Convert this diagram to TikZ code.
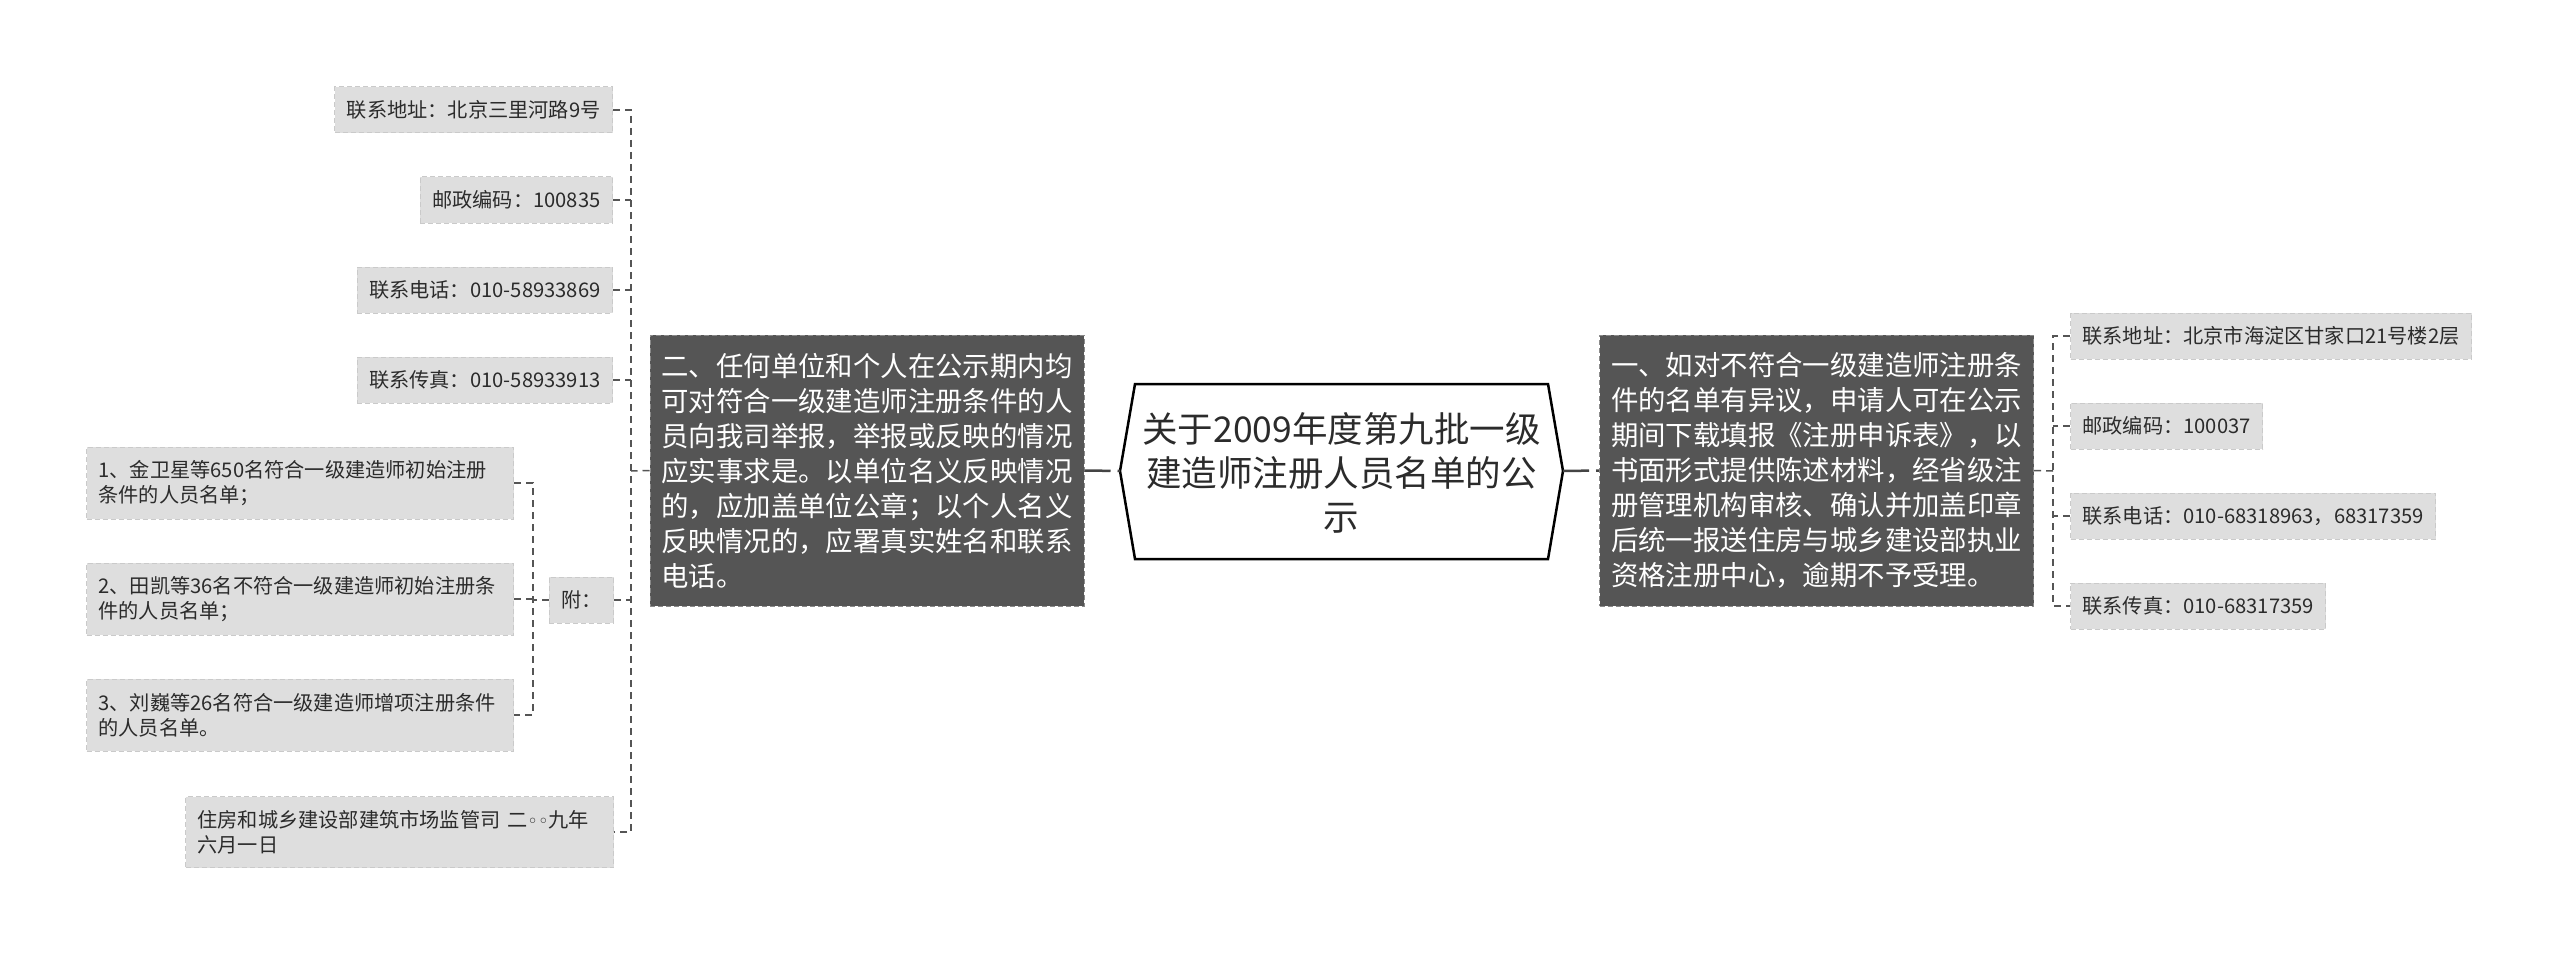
\documentclass[tikz,border=0pt]{standalone}
\usepackage{fontspec}
\setmainfont{Noto Sans CJK SC}
\newfontfamily\symfont{DejaVu Sans}
\definecolor{leaf}{HTML}{DEDEDE}
\definecolor{leafb}{HTML}{CACACA}
\definecolor{dark}{HTML}{555555}
\definecolor{darkb}{HTML}{8A8A8A}
\definecolor{linec}{HTML}{555555}
\definecolor{txt}{HTML}{2B2B2B}
\tikzset{
 leafbox/.style={fill=leaf, draw=leafb, dash pattern=on 5pt off 3pt, line width=1pt, inner xsep=12pt, inner ysep=0pt, minimum height=46pt, font=\fontsize{20.2pt}{25pt}\selectfont, text=txt, align=left},
 itembox/.style={leafbox, minimum height=72pt, text width=403pt},
 darkbox/.style={fill=dark, draw=darkb, dash pattern=on 5pt off 3pt, line width=1pt, text=white, font=\fontsize{27.4pt}{35pt}\selectfont, align=left, minimum width=434pt, minimum height=271pt, inner sep=0pt},
 conn/.style={draw=linec, line width=1.5pt, dash pattern=on 7pt off 5pt},
 mainconn/.style={draw=linec!80!black, line width=2.5pt, dash pattern=on 26pt off 7pt},
 hexa/.style={draw=black, line width=2.5pt, fill=white, line join=miter},
 titletext/.style={font=\fontsize{35.5pt}{44pt}\selectfont, align=center, text=txt, inner sep=0pt}
}
\begin{document}
\begin{tikzpicture}[x=1pt,y=-1pt]
\fill[white] (0,0) rectangle (2560,955);
\useasboundingbox (0,0) rectangle (2560,955);

% centre
\coordinate (hl) at (1120,471);
\coordinate (hr) at (1563,471);
\draw[hexa] (1135,384) -- (1548,384) -- (hr) -- (1548,559) -- (1135,559) -- (hl) -- cycle;
\node[titletext] (title) at (1341.5,473) {关于2009年度第九批一级\\建造师注册人员名单的公\\示};

% main branches
\node[darkbox] (two) at (867,470.5) {二、任何单位和个人在公示期内均\\可对符合一级建造师注册条件的人\\员向我司举报，举报或反映的情况\\应实事求是。以单位名义反映情况\\的，应加盖单位公章；以个人名义\\反映情况的，应署真实姓名和联系\\电话。};
\node[darkbox] (one) at (1816.5,470.5) {一、如对不符合一级建造师注册条\\件的名单有异议，申请人可在公示\\期间下载填报《注册申诉表》，以\\书面形式提供陈述材料，经省级注\\册管理机构审核、确认并加盖印章\\后统一报送住房与城乡建设部执业\\资格注册中心，逾期不予受理。};

% left leaves
\node[leafbox, anchor=east] (L1) at (613,110) {联系地址：北京三里河路9号};
\node[leafbox, anchor=east] (L2) at (613,200) {邮政编码：100835};
\node[leafbox, anchor=east] (L3) at (613,290) {联系电话：010-58933869};
\node[leafbox, anchor=east] (L4) at (613,380) {联系传真：010-58933913};
\node[leafbox, anchor=east] (fu) at (614,600) {附：};
\node[itembox, anchor=east] (I1) at (514,483) {1、金卫星等650名符合一级建造师初始注册\\条件的人员名单；};
\node[itembox, anchor=east] (I2) at (514,599) {2、田凯等36名不符合一级建造师初始注册条\\件的人员名单；};
\node[itembox, anchor=east] (I3) at (514,715) {3、刘巍等26名符合一级建造师增项注册条件\\的人员名单。};
\node[leafbox, anchor=east, minimum height=71pt, text width=404pt] (L9) at (614,832) {住房和城乡建设部建筑市场监管司 二{\symfont\fontsize{18pt}{25pt}\selectfont ◦◦}九年\\六月一日};

% right leaves
\node[leafbox, anchor=west] (R1) at (2070,336) {联系地址：北京市海淀区甘家口21号楼2层};
\node[leafbox, anchor=west] (R2) at (2070,426) {邮政编码：100037};
\node[leafbox, anchor=west] (R3) at (2070,516) {联系电话：010-68318963，68317359};
\node[leafbox, anchor=west] (R4) at (2070,606) {联系传真：010-68317359};

% connectors centre
\draw[mainconn] (two.east) -- (hl);
\draw[mainconn] (hr) -- (one.west);

% left trunk
\coordinate (LT) at (631,471);
\draw[conn] (two.west) -- (LT);
\draw[conn] (L1.east) -- (L1.east -| LT) -- (L9.east -| LT) -- (L9.east);
\foreach \n in {L2,L3,L4,fu} \draw[conn] (\n.east) -- (\n.east -| LT);

% sub trunk
\coordinate (ST) at (533,600);
\draw[conn] (fu.west) -- (ST);
\draw[conn] (I1.east) -- (I1.east -| ST) -- (I3.east -| ST) -- (I3.east);
\draw[conn] (I2.east) -- (I2.east -| ST);

% right trunk
\coordinate (RT) at (2053,471);
\draw[conn] (one.east) -- (RT);
\draw[conn] (R1.west) -- (R1.west -| RT) -- (R4.west -| RT) -- (R4.west);
\foreach \n in {R2,R3} \draw[conn] (\n.west) -- (\n.west -| RT);
\end{tikzpicture}
\end{document}
